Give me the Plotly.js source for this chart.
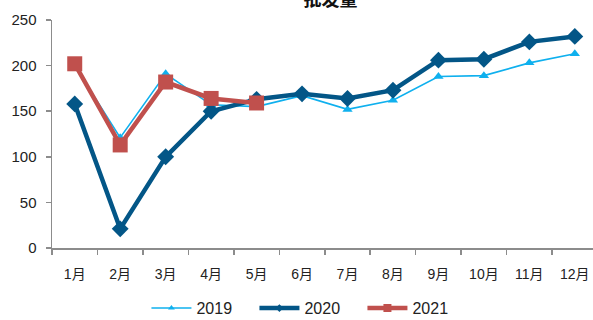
<!DOCTYPE html>
<html>
<head>
<meta charset="utf-8">
<script src="https://cdn.plot.ly/plotly-3.0.1.min.js"></script>
<style>
  html, body { margin: 0; padding: 0; background: #fff; }
  #chart { width: 593px; height: 320px; }
</style>
</head>
<body>
<div id="chart"></div>
<script>
// Monthly wholesale volume, 2019–2021
const months = ['1月', '2月', '3月', '4月', '5月', '6月', '7月', '8月', '9月', '10月', '11月', '12月'];
const vol2019 = [200, 121, 191, 157, 155, 167, 152, 162, 188, 189, 203, 213];
const vol2020 = [158, 21, 100, 150, 163, 169, 164, 173, 206, 207, 226, 232];
const vol2021 = [202, 113, 182, 164, 159];
const yTicks = [0, 50, 100, 150, 200, 250];

const baseFont = 'Liberation Sans, Arial, Noto Sans CJK SC, sans-serif';

const styles = {
  '2019': { color: '#0FB0EE', width: 1.6, symbol: 'triangle-up', size: 9, legendSize: 6 },
  '2020': { color: '#035687', width: 4.5, symbol: 'diamond', size: 13, legendSize: 6 },
  '2021': { color: '#C0504D', width: 4.5, symbol: 'square', size: 15, legendSize: 8 }
};

function series(name, x, y) {
  const s = styles[name];
  return {
    name, x, y, type: 'scatter', mode: 'lines+markers', legendgroup: name, showlegend: false,
    line: { color: s.color, width: s.width },
    marker: { symbol: s.symbol, size: s.size, color: s.color }
  };
}

// legend entries with smaller markers than the plotted points
function legendEntry(name) {
  const s = styles[name];
  return {
    name, x: [null], y: [null], type: 'scatter', mode: 'lines+markers', legendgroup: name,
    line: { color: s.color, width: s.width },
    marker: { symbol: s.symbol, size: s.legendSize, color: s.color }
  };
}

const traces = [
  series('2019', months, vol2019),
  series('2020', months, vol2020),
  series('2021', months.slice(0, vol2021.length), vol2021),
  legendEntry('2019'), legendEntry('2020'), legendEntry('2021')
];

const layout = {
  width: 593, height: 320,
  margin: { l: 52, r: 0, t: 20, b: 72, autoexpand: false },
  paper_bgcolor: '#fff', plot_bgcolor: '#fff',
  font: { family: baseFont, size: 13, color: '#222' },
  title: {
    text: '<b>批发量</b>',
    font: { family: 'Noto Sans CJK SC, sans-serif', size: 18, color: '#111' },
    x: 0.515, xanchor: 'center', xref: 'paper',
    y: 1.0, yref: 'container', yanchor: 'middle'
  },
  showlegend: true,
  legend: {
    orientation: 'h', x: 0.474, xanchor: 'center',
    yref: 'container', y: 0.037, yanchor: 'middle',
    font: { size: 16, color: '#222' }, itemwidth: 40, tracegroupgap: 0,
    entrywidth: 53, entrywidthmode: 'pixels'
  },
  xaxis: {
    type: 'category', range: [-0.5, 11.4],
    showline: true, linecolor: '#8c8c8c', linewidth: 1.5,
    ticks: 'outside', tickson: 'boundaries', ticklen: 5, tickcolor: '#8c8c8c', tickwidth: 1.5,
    showgrid: false, zeroline: false, ticklabelstandoff: 13,
    tickfont: { size: 14, color: '#222' }
  },
  yaxis: {
    range: [0, 250], tickvals: yTicks,
    showline: true, linecolor: '#8c8c8c', linewidth: 1.5,
    ticks: 'outside', ticklen: 5, tickcolor: '#8c8c8c', tickwidth: 1.5,
    showgrid: false, zeroline: false, ticklabelstandoff: 6,
    tickfont: { size: 15, color: '#222' }
  }
};

Plotly.newPlot('chart', traces, layout, { displayModeBar: false, staticPlot: true });
</script>
</body>
</html>
